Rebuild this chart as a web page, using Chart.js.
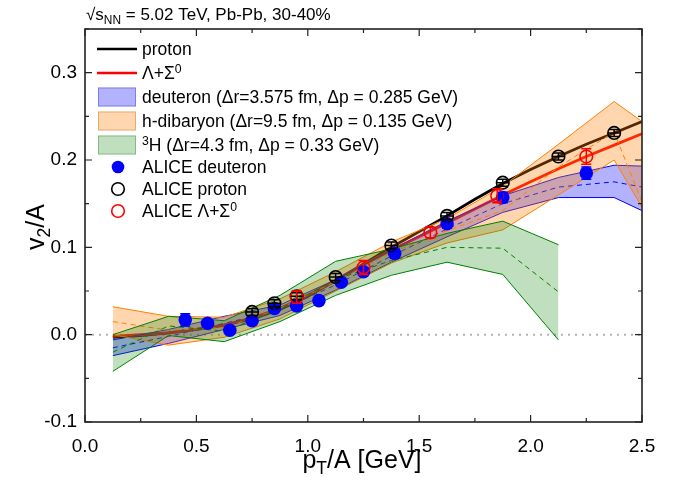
<!DOCTYPE html>
<html><head><meta charset="utf-8">
<script src="https://cdn.jsdelivr.net/npm/chart.js@4/dist/chart.umd.min.js"></script>
<style>html,body{margin:0;padding:0;background:#fff;overflow:hidden}canvas{display:block}</style>
</head><body>
<canvas id="c" width="681" height="477" style="width:681px;height:477px"></canvas>
<script>
// ---------------- data ----------------
const xTickValues = [0, 0.5, 1.0, 1.5, 2.0, 2.5];
const yTickValues = [-0.1, 0.0, 0.1, 0.2, 0.3];

// model curves
const curveX      = [0.125, 0.25, 0.375, 0.5, 0.625, 0.75, 0.875, 1.0, 1.125, 1.25, 1.375, 1.5, 1.625, 1.75, 1.875, 2.0, 2.125, 2.25, 2.375, 2.5];
const protonCurve = [-0.003, -0.001, 0.002, 0.006, 0.011, 0.018, 0.029, 0.044, 0.062, 0.081, 0.100, 0.118, 0.136, 0.155, 0.173, 0.189, 0.204, 0.218, 0.231, 0.244];
const lambdaCurve = [-0.002, 0.000, 0.002, 0.006, 0.011, 0.019, 0.030, 0.045, 0.062, 0.080, 0.097, 0.112, 0.128, 0.144, 0.160, 0.175, 0.190, 0.204, 0.217, 0.230];

// coalescence bands
const bandX     = [0.125, 0.375, 0.625, 0.875, 1.125, 1.375, 1.625, 1.875, 2.125, 2.375, 2.5];
const deutUpper = [-0.006, 0.006, 0.021, 0.034, 0.063, 0.097, 0.130, 0.159, 0.180, 0.194, 0.193];
const deutMid   = [-0.015, -0.002, 0.013, 0.028, 0.057, 0.090, 0.121, 0.150, 0.169, 0.175, 0.169];
const deutLower = [-0.024, -0.010, 0.006, 0.022, 0.051, 0.083, 0.112, 0.140, 0.157, 0.157, 0.142];

const hdibUpper = [0.032, 0.021, 0.020, 0.041, 0.072, 0.106, 0.133, 0.170, 0.218, 0.267, 0.244];
const hdibMid   = [0.015, 0.005, 0.008, 0.030, 0.061, 0.094, 0.119, 0.142, 0.192, 0.232, 0.152];
const hdibLower = [0.000, -0.012, -0.003, 0.018, 0.050, 0.082, 0.105, 0.120, 0.160, 0.200, 0.146];

const tritX     = [0.125, 0.375, 0.625, 0.875, 1.125, 1.375, 1.625, 1.875, 2.125];
const tritUpper = [0.000, 0.021, 0.016, 0.045, 0.084, 0.098, 0.116, 0.130, 0.103];
const tritMid   = [-0.020, 0.010, 0.004, 0.029, 0.063, 0.085, 0.100, 0.099, 0.049];
const tritLower = [-0.042, -0.001, -0.008, 0.015, 0.045, 0.068, 0.083, 0.069, -0.006];

// ALICE data
const aliceDeutX   = [0.45, 0.55, 0.65, 0.75, 0.85, 0.95, 1.05, 1.15, 1.25, 1.39, 1.625, 1.875, 2.25];
const aliceDeutY   = [0.017, 0.013, 0.005, 0.016, 0.030, 0.033, 0.039, 0.060, 0.072, 0.093, 0.127, 0.157, 0.185];
const aliceDeutErr = [0.007, 0.003, 0.003, 0.003, 0.003, 0.003, 0.003, 0.004, 0.004, 0.005, 0.005, 0.006, 0.007];

const aliceProtX   = [0.75, 0.85, 0.95, 1.125, 1.375, 1.625, 1.875, 2.125, 2.375];
const aliceProtY   = [0.026, 0.036, 0.044, 0.066, 0.102, 0.136, 0.174, 0.204, 0.231];
const aliceProtErr = [0.004, 0.004, 0.004, 0.004, 0.004, 0.004, 0.004, 0.004, 0.004];

const aliceLamX    = [0.95, 1.25, 1.55, 1.85, 2.25];
const aliceLamY    = [0.043, 0.077, 0.117, 0.159, 0.204];
const aliceLamErr  = [0.007, 0.008, 0.006, 0.008, 0.009];

const zeroLineX = [0, 2.5];
const zeroLineY = [0, 0];

// ---------------- helpers ----------------
const FONT = '"Liberation Sans", Arial, Helvetica, sans-serif';
const pts = (xs, ys) => xs.map((x, i) => ({x: x, y: ys[i]}));

function richWidth(ctx, parts, size) {
  let w = 0;
  for (const p of parts) {
    const s = (p.sub || p.sup) ? size * 0.7 : size;
    ctx.font = s + 'px ' + FONT;
    w += ctx.measureText(p.t).width;
  }
  return w;
}
function drawRich(ctx, parts, x, y, size, align) {
  const w = richWidth(ctx, parts, size);
  let cx = align === 'center' ? x - w / 2 : x;
  ctx.textBaseline = 'alphabetic';
  ctx.textAlign = 'left';
  for (const p of parts) {
    const s = (p.sub || p.sup) ? size * 0.7 : size;
    ctx.font = s + 'px ' + FONT;
    const dy = p.sub ? size * 0.25 : (p.sup ? -size * 0.38 : 0);
    ctx.fillText(p.t, cx, y + dy);
    cx += ctx.measureText(p.t).width;
  }
}

const BLUE_FILL = 'rgba(0,0,255,0.30)';
const ORANGE_FILL = 'rgba(255,128,0,0.32)';
const GREEN_FILL = 'rgba(0,128,0,0.25)';

const legendItems = [
  {kind: 'line', color: '#000000', parts: [{t: 'proton'}]},
  {kind: 'line', color: '#ff0000', parts: [{t: 'Λ+Σ'}, {t: '0', sup: true}]},
  {kind: 'box', fill: BLUE_FILL, edge: 'rgba(60,60,200,0.45)', parts: [{t: 'deuteron (Δr=3.575 fm, Δp = 0.285 GeV)'}]},
  {kind: 'box', fill: ORANGE_FILL, edge: 'rgba(200,120,40,0.45)', parts: [{t: 'h-dibaryon (Δr=9.5 fm, Δp = 0.135 GeV)'}]},
  {kind: 'box', fill: GREEN_FILL, edge: 'rgba(60,140,60,0.45)', parts: [{t: '3', sup: true}, {t: 'H (Δr=4.3 fm, Δp = 0.33 GeV)'}]},
  {kind: 'dot', fill: '#0000ff', stroke: '#0000ff', parts: [{t: 'ALICE deuteron'}]},
  {kind: 'dot', fill: null, stroke: '#000000', parts: [{t: 'ALICE proton'}]},
  {kind: 'dot', fill: null, stroke: '#ff0000', parts: [{t: 'ALICE Λ+Σ'}, {t: '0', sup: true}]}
];
const legendRowsY = [49, 73, 97, 121, 145, 167, 189, 211];

const decorPlugin = {
  id: 'decor',
  afterDatasetsDraw(chart) {
    const ctx = chart.ctx;
    // error bars
    chart.data.datasets.forEach((ds, di) => {
      if (!ds.errors) return;
      const meta = chart.getDatasetMeta(di);
      const ys = chart.scales.y;
      ctx.save();
      ctx.strokeStyle = ds.borderColor;
      ctx.lineWidth = 1.5;
      meta.data.forEach((el, i) => {
        const e = ds.errors[i];
        const v = ds.data[i].y;
        const y1 = ys.getPixelForValue(v + e), y2 = ys.getPixelForValue(v - e);
        const x = el.x;
        ctx.beginPath();
        ctx.moveTo(x, y1); ctx.lineTo(x, y2);
        ctx.moveTo(x - 5, y1); ctx.lineTo(x + 5, y1);
        ctx.moveTo(x - 5, y2); ctx.lineTo(x + 5, y2);
        if (ds.xBar) { ctx.moveTo(x - 6, el.y); ctx.lineTo(x + 6, el.y); }
        ctx.stroke();
      });
      ctx.restore();
    });
  },
  afterDraw(chart) {
    const ctx = chart.ctx;
    const a = chart.chartArea;
    const xs = chart.scales.x, ys = chart.scales.y;
    ctx.save();
    // frame
    ctx.strokeStyle = '#222';
    ctx.lineWidth = 1.6;
    ctx.strokeRect(a.left, a.top, a.right - a.left, a.bottom - a.top);
    // ticks (inward, all sides)
    ctx.lineWidth = 1.2;
    ctx.beginPath();
    for (let k = 0; k <= 10; k++) {
      const v = k * 0.25;
      const px = xs.getPixelForValue(v);
      const len = (k % 2 === 0) ? 7 : 4;
      ctx.moveTo(px, a.bottom); ctx.lineTo(px, a.bottom - len);
      ctx.moveTo(px, a.top); ctx.lineTo(px, a.top + len);
    }
    for (let k = 0; k <= 9; k++) {
      const v = -0.1 + k * 0.05;
      const py = ys.getPixelForValue(v);
      const len = (k % 2 === 0) ? 7 : 4;
      ctx.moveTo(a.left, py); ctx.lineTo(a.left + len, py);
      ctx.moveTo(a.right, py); ctx.lineTo(a.right - len, py);
    }
    ctx.stroke();

    // title
    ctx.fillStyle = '#000';
    drawRich(ctx, [{t: '√s'}, {t: 'NN', sub: true}, {t: ' = 5.02 TeV, Pb-Pb, 30-40%'}], 86, 20, 17, 'left');

    // axis titles
    drawRich(ctx, [{t: 'p'}, {t: 'T', sub: true}, {t: '/A [GeV]'}], 362, 468, 25, 'center');
    ctx.save();
    ctx.translate(44, 227);
    ctx.rotate(-Math.PI / 2);
    drawRich(ctx, [{t: 'v'}, {t: '2', sub: true}, {t: '/A'}], 0, 0, 25, 'center');
    ctx.restore();

    // legend
    legendItems.forEach((it, i) => {
      const cy = legendRowsY[i];
      if (it.kind === 'line') {
        ctx.strokeStyle = it.color;
        ctx.lineWidth = 2.6;
        ctx.beginPath(); ctx.moveTo(97, cy); ctx.lineTo(137, cy); ctx.stroke();
      } else if (it.kind === 'box') {
        ctx.fillStyle = it.fill;
        ctx.fillRect(98, cy - 9.5, 38, 19);
        ctx.strokeStyle = it.edge;
        ctx.lineWidth = 1;
        ctx.strokeRect(98.5, cy - 9, 37, 18);
      } else {
        ctx.beginPath(); ctx.arc(118, cy, 6.3, 0, Math.PI * 2);
        if (it.fill) { ctx.fillStyle = it.fill; ctx.fill(); }
        else { ctx.strokeStyle = it.stroke; ctx.lineWidth = 1.6; ctx.stroke(); }
      }
      ctx.fillStyle = '#000';
      drawRich(ctx, it.parts, 142, cy + 6.2, 17.5, 'left');
    });
    ctx.restore();
  }
};

const edge = (label, xs, ys, color, order, extra) => Object.assign({
  label: label, data: pts(xs, ys), showLine: true, borderColor: color, borderWidth: 1,
  pointRadius: 0, fill: false, order: order, tension: 0
}, extra || {});

const datasets = [
  // model lines
  {label: 'proton', data: pts(curveX, protonCurve), showLine: true, borderColor: '#000000', borderWidth: 2.8, pointRadius: 0, fill: false, order: 41},
  {label: 'lambda', data: pts(curveX, lambdaCurve), showLine: true, borderColor: '#ff0000', borderWidth: 2.8, pointRadius: 0, fill: false, order: 40},
  {label: 'zero', data: pts(zeroLineX, zeroLineY), showLine: true, borderColor: '#b4b4b4', borderWidth: 2, borderDash: [2, 5], pointRadius: 0, fill: false, order: 42},
  // deuteron band
  edge('deut up', bandX, deutUpper, '#0000ff', 30),
  edge('deut lo', bandX, deutLower, '#0000ff', 30, {fill: '-1', backgroundColor: BLUE_FILL}),
  edge('deut mid', bandX, deutMid, '#0000ff', 29, {borderDash: [5, 4]}),
  // h-dibaryon band
  edge('hdib up', bandX, hdibUpper, '#ff8000', 27),
  edge('hdib lo', bandX, hdibLower, '#ff8000', 27, {fill: '-1', backgroundColor: ORANGE_FILL}),
  edge('hdib mid', bandX, hdibMid, '#ff8000', 26, {borderDash: [5, 4]}),
  // triton band
  edge('trit up', tritX, tritUpper, '#008000', 24),
  edge('trit lo', tritX, tritLower, '#008000', 24, {fill: '-1', backgroundColor: GREEN_FILL}),
  edge('trit mid', tritX, tritMid, '#008000', 23, {borderDash: [5, 4]}),
  // ALICE points
  {label: 'ALICE deuteron', data: pts(aliceDeutX, aliceDeutY), errors: aliceDeutErr, showLine: false, pointRadius: 6.8, pointBackgroundColor: '#0000ff', borderColor: '#0000ff', pointBorderWidth: 0, order: 3},
  {label: 'ALICE proton', data: pts(aliceProtX, aliceProtY), errors: aliceProtErr, xBar: true, showLine: false, pointRadius: 6.3, pointBackgroundColor: 'rgba(0,0,0,0)', borderColor: '#000000', pointBorderWidth: 1.6, order: 2},
  {label: 'ALICE lambda', data: pts(aliceLamX, aliceLamY), errors: aliceLamErr, showLine: false, pointRadius: 6.3, pointBackgroundColor: 'rgba(0,0,0,0)', borderColor: '#ff0000', pointBorderWidth: 1.6, order: 1}
];

new Chart(document.getElementById('c'), {
  type: 'scatter',
  data: {datasets: datasets},
  options: {
    responsive: false,
    devicePixelRatio: 1,
    animation: false,
    events: [],
    layout: {padding: {left: 0, right: 39, top: 29, bottom: 0}},
    plugins: {legend: {display: false}, tooltip: {enabled: false}, title: {display: false}},
    scales: {
      x: {
        type: 'linear', min: 0, max: 2.5,
        afterBuildTicks: s => { s.ticks = xTickValues.map(v => ({value: v})); },
        afterFit: s => { s.height = 55; },
        grid: {display: false, drawTicks: false},
        border: {display: false},
        ticks: {color: '#000', font: {family: FONT, size: 19}, padding: 13, maxRotation: 0,
                callback: v => Number(v).toFixed(1)}
      },
      y: {
        type: 'linear', min: -0.1, max: 0.35,
        afterBuildTicks: s => { s.ticks = yTickValues.map(v => ({value: v})); },
        afterFit: s => { s.width = 85; },
        grid: {display: false, drawTicks: false},
        border: {display: false},
        ticks: {color: '#000', font: {family: FONT, size: 19}, padding: 8,
                callback: v => (Math.abs(v) < 1e-9 ? 0 : Number(v)).toFixed(1)}
      }
    }
  },
  plugins: [decorPlugin]
});
</script>
</body></html>
